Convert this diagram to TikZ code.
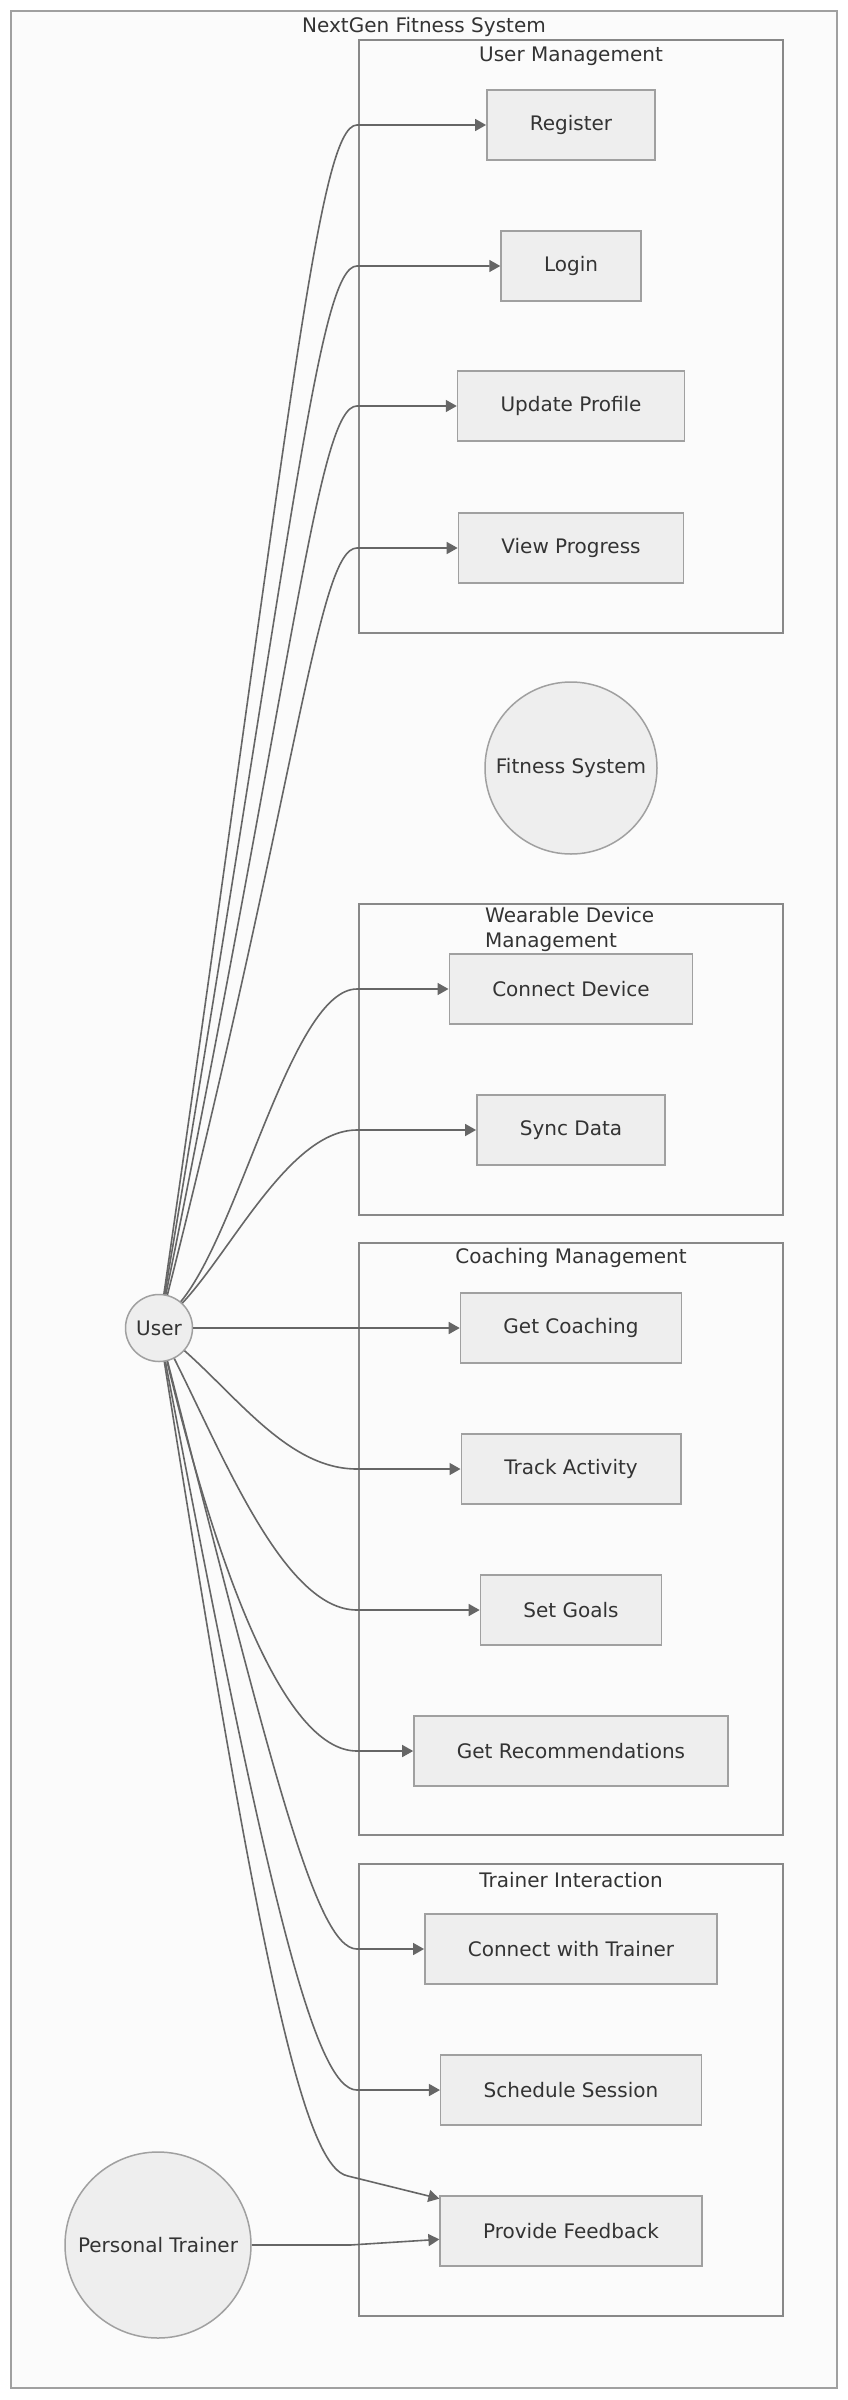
\documentclass[tikz,border=0pt]{standalone}
\usepackage{fontspec}
\setmainfont{DejaVu Sans}
\usetikzlibrary{arrows.meta}

\definecolor{edgegray}{HTML}{666666}
\definecolor{nodegray}{HTML}{A0A0A0}
\definecolor{nodefill}{HTML}{EEEEEE}
\definecolor{groupgray}{HTML}{888888}
\definecolor{framefill}{HTML}{FBFBFB}
\definecolor{textgray}{HTML}{333333}

\begin{document}
\begin{tikzpicture}[x=1pt,y=-1pt,
	usecase/.style={draw=nodegray, fill=nodefill, line width=1.5pt, minimum height=70pt, inner xsep=43pt, font=\fontsize{20}{24}\selectfont, text=textgray},
	actor/.style={circle, draw=nodegray, fill=nodefill, line width=1.5pt, inner sep=0pt, font=\fontsize{20}{24}\selectfont, text=textgray},
	group/.style={draw=groupgray, line width=1.5pt},
	grouplabel/.style={font=\fontsize{20}{25}\selectfont, text=textgray},
	flow/.style={draw=edgegray, line width=1.6pt, -{Triangle[length=11pt,width=12pt]}}]

	\useasboundingbox (0,0) rectangle (848,2400);
	\draw[draw=nodegray, fill=framefill, line width=2pt] (11,11) rectangle (837,2388);
	\node[grouplabel] (title) at (424,27) {NextGen Fitness System};

	% subsystem frames
	\draw[group] (359,40) rectangle (783,633);
	\node[grouplabel] (umlabel) at (571,56) {User Management};
	\draw[group] (359,904) rectangle (783,1215);
	\node[grouplabel, align=left, anchor=north west, inner sep=0pt] (wdlabel) at (485,907) {Wearable Device\\Management};
	\draw[group] (359,1243) rectangle (783,1835);
	\node[grouplabel] (cmlabel) at (571,1258) {Coaching Management};
	\draw[group] (359,1864) rectangle (783,2316);
	\node[grouplabel] (tilabel) at (571,1880) {Trainer Interaction};

	% actors
	\node[actor, minimum size=67pt] (user) at (159,1328) {User};
	\node[actor, minimum size=186pt] (trainer) at (158,2245) {Personal Trainer};
	\node[actor, minimum size=172pt] (system) at (571,768) {Fitness System};

	% use cases
	\node[usecase] (register) at (571,125) {Register};
	\node[usecase] (login) at (571,266) {Login};
	\node[usecase] (profile) at (571,406) {Update Profile};
	\node[usecase] (progress) at (571,548) {View Progress};
	\node[usecase] (device) at (571,989) {Connect Device};
	\node[usecase] (sync) at (571,1130) {Sync Data};
	\node[usecase] (coaching) at (571,1328) {Get Coaching};
	\node[usecase] (activity) at (571,1469) {Track Activity};
	\node[usecase] (goals) at (571,1610) {Set Goals};
	\node[usecase] (recommend) at (571,1751) {Get Recommendations};
	\node[usecase] (connect) at (571,1949) {Connect with Trainer};
	\node[usecase] (session) at (571,2090) {Schedule Session};
	\node[usecase] (feedback) at (571,2231) {Provide Feedback};

	% associations
	\draw[flow] (user) .. controls (290,420) and (318,125) .. (357,125) -- (register);
	\draw[flow] (user) .. controls (292,540) and (318,266) .. (357,266) -- (login);
	\draw[flow] (user) .. controls (295,660) and (318,406) .. (357,406) -- (profile);
	\draw[flow] (user) .. controls (298,780) and (318,548) .. (357,548) -- (progress);
	\draw[flow] (user) .. controls (240,1230) and (292,989) .. (357,989) -- (device);
	\draw[flow] (user) .. controls (232,1250) and (290,1130) .. (357,1130) -- (sync);
	\draw[flow] (user) -- (coaching);
	\draw[flow] (user) .. controls (240,1400) and (290,1469) .. (357,1469) -- (activity);
	\draw[flow] (user) .. controls (225,1460) and (285,1610) .. (357,1610) -- (goals);
	\draw[flow] (user) .. controls (215,1560) and (282,1751) .. (357,1751) -- (recommend);
	\draw[flow] (user) .. controls (270,1760) and (315,1949) .. (357,1949) -- (connect);
	\draw[flow] (user) .. controls (268,1900) and (315,2090) .. (357,2090) -- (session);
	\draw[flow] (user) .. controls (262,1980) and (305,2168) .. (348,2176) -- (feedback);
	\draw[flow] (trainer) -- (350,2245) -- (feedback);
\end{tikzpicture}
\end{document}
